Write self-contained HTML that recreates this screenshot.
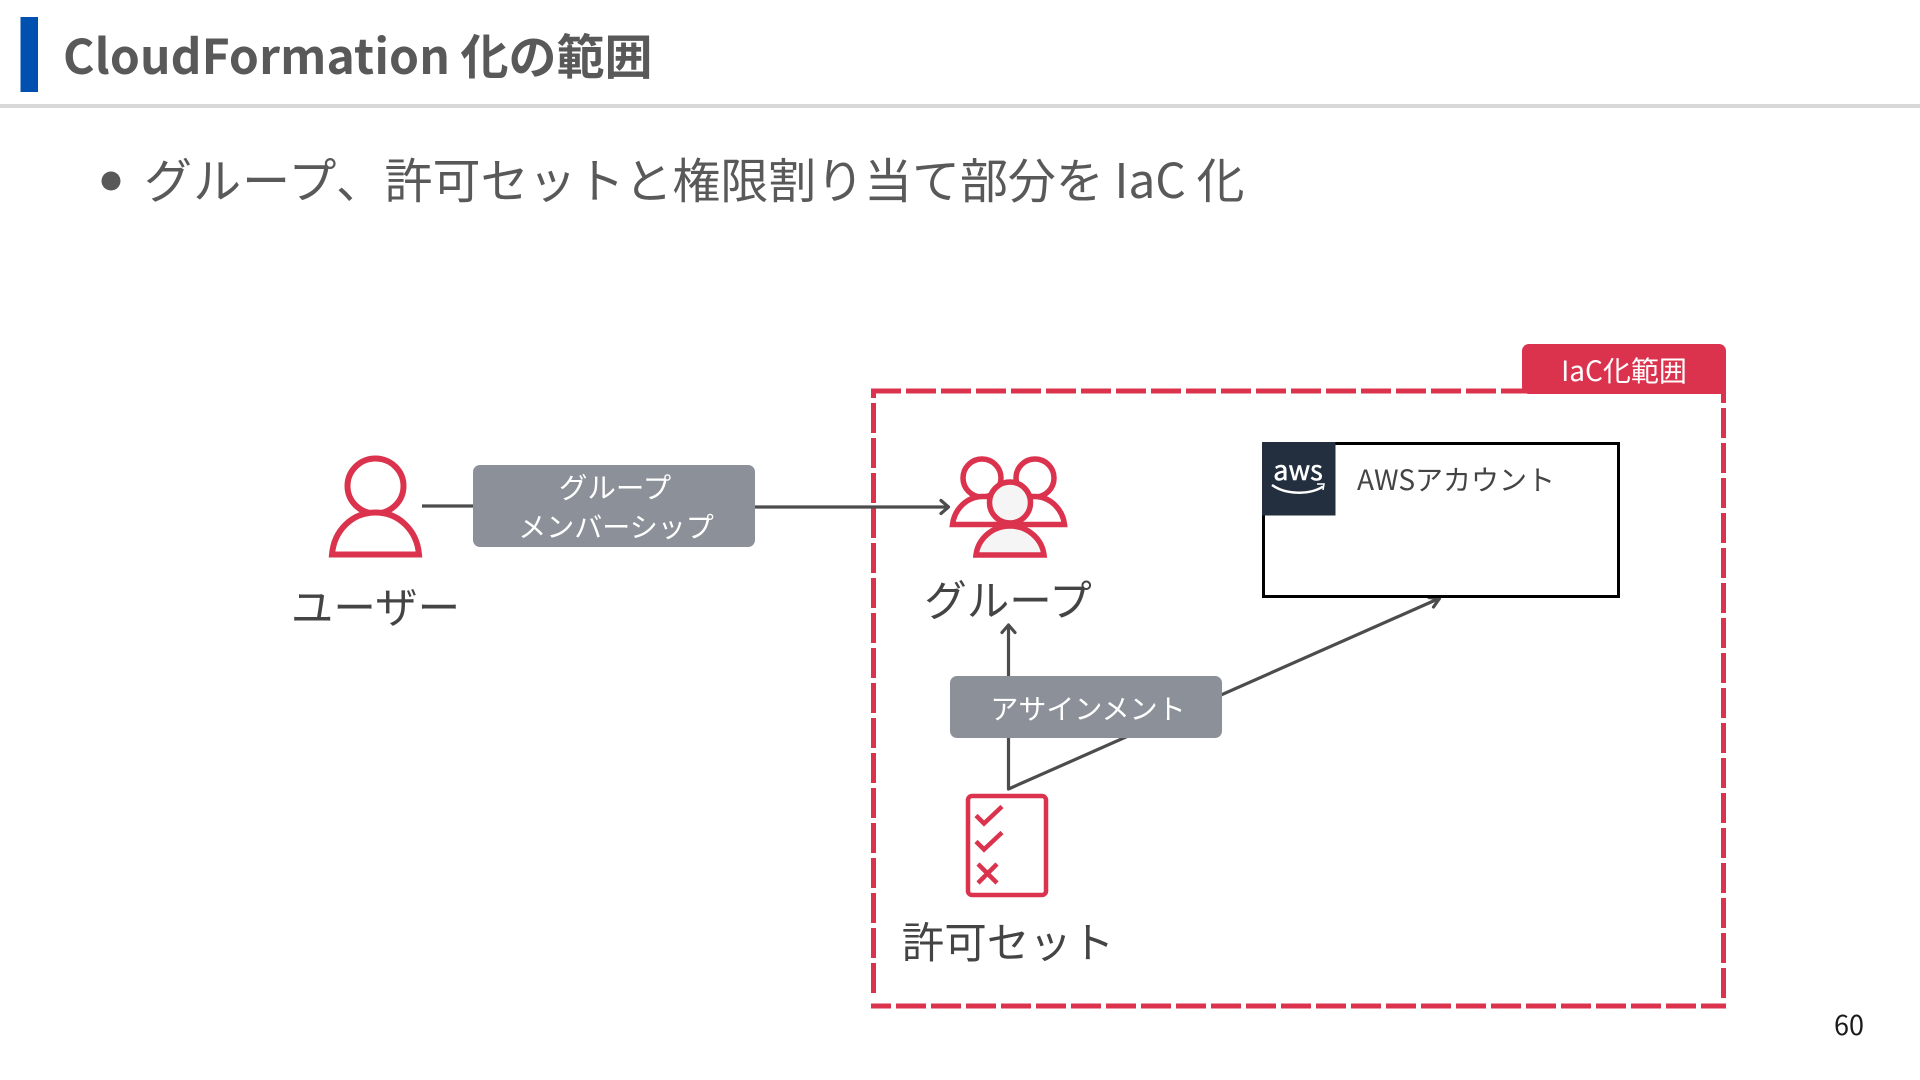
<!DOCTYPE html>
<html lang="ja">
<head>
<meta charset="utf-8">
<title>CloudFormation 化の範囲</title>
<style>
html,body{margin:0;padding:0;background:#fff;}
#s{display:block;position:absolute;left:0;top:0;}
text{font-family:"Liberation Sans","Noto Sans CJK JP",sans-serif;}
.n{font-family:"Noto Sans CJK JP","Liberation Sans",sans-serif;}
</style>
</head>
<body>
<svg id="s" xmlns="http://www.w3.org/2000/svg" width="1920" height="1080" viewBox="0 0 1920 1080">
<rect width="1920" height="1080" fill="#fff"/>
<rect x="20.500" y="17" width="17.500" height="75" fill="#0050B0"/>
<rect x="0" y="104" width="1920" height="4" fill="#D9D9D9"/>
<text class="n" x="63" y="74" font-size="48" font-weight="700" fill="#595959" textLength="387" lengthAdjust="spacing">CloudFormation</text>
<text class="n" x="460.500" y="74" font-size="48" font-weight="700" fill="#595959">化の範囲</text>
<circle cx="111" cy="181" r="9.500" fill="#595959"/>
<text class="n" x="144" y="198" font-size="48" fill="#595959" textLength="240" lengthAdjust="spacing">グループ、</text>
<text class="n" x="384.500" y="198" font-size="48" fill="#595959">許可セット</text>
<text class="n" x="624.500" y="198" font-size="48" fill="#595959" textLength="620" lengthAdjust="spacing">と権限割り当て部分を IaC 化</text>

<!-- dashed region -->
<g stroke="#DB334D" stroke-width="5" fill="none" stroke-dasharray="30 5">
<line x1="871" y1="391" x2="1726" y2="391"/>
<line x1="1723.500" y1="389" x2="1723.500" y2="998" stroke-dashoffset="16"/>
<line x1="871" y1="1006" x2="1726" y2="1006" stroke-dashoffset="10"/>
<line x1="873.500" y1="389" x2="873.500" y2="993" stroke-dashoffset="21"/>
</g>
<path d="M1522 351a7 7 0 0 1 7-7h190a7 7 0 0 1 7 7v43h-197a7 7 0 0 1-7-7z" fill="#DB334D"/>
<text class="n" x="1624" y="381" font-size="28" fill="#fff" text-anchor="middle">IaC化範囲</text>

<!-- connectors -->
<g stroke="#4C4C4C" stroke-width="3.200" fill="none">
<line x1="422" y1="506" x2="480" y2="506"/>
<line x1="750" y1="507" x2="948" y2="507"/>
<path d="M941 500.500l7.500 6.500l-7.500 6.500" stroke-linecap="round" stroke-linejoin="round"/>
<line x1="1008.500" y1="626" x2="1008.500" y2="680"/>
<path d="M1002 632.500l6.500-7.500l6.500 7.500" stroke-linecap="round" stroke-linejoin="round"/>
<path d="M1008.500 730V789L1439 598.500" stroke-linejoin="round"/>
<path d="M1429 597.500l10.500 1l-6 8.500" stroke-linecap="round" stroke-linejoin="round"/>
</g>

<!-- user icon -->
<g stroke="#DB334D" stroke-width="6" fill="#fff">
<ellipse cx="375.500" cy="486" rx="28" ry="27.500"/>
<path d="M332 554.500c2-24 20-42 43.500-42s41.500 18 43.500 42z"/>
</g>
<text class="n" x="375.500" y="623" font-size="42.500" fill="#444" text-anchor="middle">ユーザー</text>

<!-- pill 1 -->
<rect x="473" y="465" width="282" height="82" rx="7" fill="#8C9199"/>
<text class="n" x="615" y="498" font-size="28.500" fill="#fff" text-anchor="middle">グループ</text>
<text class="n" x="616" y="537" font-size="28" fill="#fff" text-anchor="middle">メンバーシップ</text>

<!-- group icon -->
<g stroke="#DB334D" stroke-width="5.500" fill="#fff">
<circle cx="982" cy="478" r="19"/>
<circle cx="1035" cy="478" r="19"/>
<path d="M952.500 524.500c2-16 15-28 30-28h52c15 0 28 12 30 28z"/>
<circle cx="1010" cy="502.500" r="20.500" fill="#F5F5F5"/>
<path d="M976 555c2-16 16-29 34-29s32 13 34 29z" fill="#F5F5F5"/>
</g>
<text class="n" x="1008" y="616" font-size="42.500" fill="#444" text-anchor="middle">グループ</text>

<!-- aws account -->
<rect x="1263.500" y="443.500" width="355" height="153" fill="#fff" stroke="#000" stroke-width="3"/>
<rect x="1262" y="442" width="73.500" height="73.500" fill="#232F3E"/>
<text class="n" x="1298" y="480" font-size="27" fill="#fff" stroke="#fff" stroke-width=".5" text-anchor="middle">aws</text>
<path d="M1272 485c14 10 38 10 51 1.500" stroke="#fff" stroke-width="2.500" fill="none"/>
<path d="M1317 484l7 0l-1 6" stroke="#fff" stroke-width="1.500" fill="none"/>
<text class="n" x="1357" y="490" font-size="28" fill="#444" textLength="198" lengthAdjust="spacing">AWSアカウント</text>

<!-- pill 2 -->
<rect x="950" y="676" width="272" height="62" rx="7" fill="#8C9199"/>
<text class="n" x="1088" y="719" font-size="28" fill="#fff" text-anchor="middle">アサインメント</text>

<!-- permission icon -->
<rect x="968" y="796" width="78" height="99" rx="4" fill="#fff" stroke="#DB334D" stroke-width="4.500"/>
<g stroke="#DB334D" stroke-width="4.500" fill="none">
<path d="M976 815.500l8 8l18-17"/>
<path d="M976 841.500l8 8l18-17"/>
<path d="M978 864l19 19M997 864l-19 19"/>
</g>
<text class="n" x="1008" y="958" font-size="42.500" fill="#444" text-anchor="middle">許可セット</text>

<text class="n" x="1849" y="1035" font-size="27" fill="#1a1a1a" text-anchor="middle">60</text>
</svg>
</body>
</html>
